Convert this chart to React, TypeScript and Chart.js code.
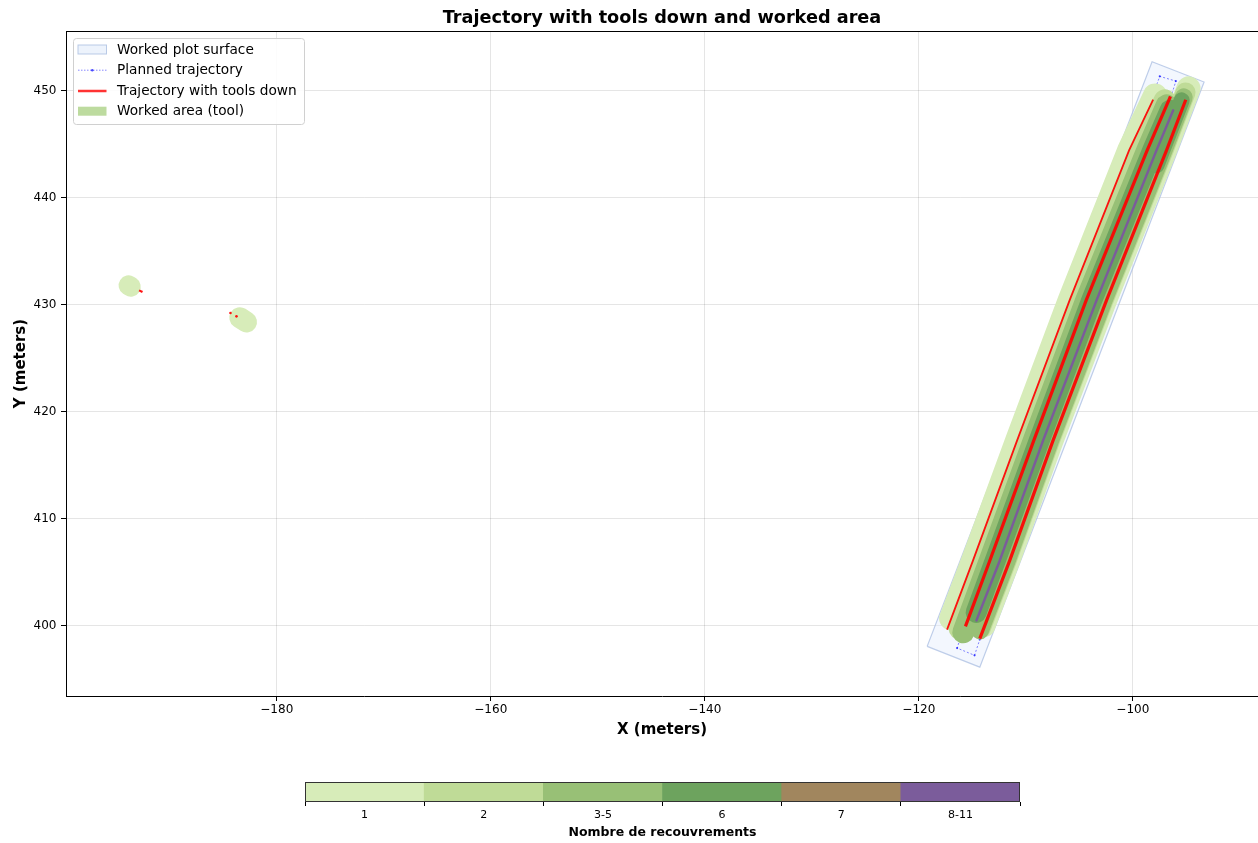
import React, { useEffect, useRef } from 'react';
import { Chart, registerables } from 'chart.js';

Chart.register(...registerables);

const FONT = "'DejaVu Sans', 'Noto Sans', sans-serif";

// ---------------- data ----------------
const X_TICKS = [-180, -160, -140, -120, -100];
const Y_TICKS = [400, 410, 420, 430, 440, 450];
const X_LIMITS = [-199.7, -88.3];
const Y_LIMITS = [393.4, 455.55];

// Worked plot surface (closed polygon)
const surfaceX = [-119.22, -114.3, -93.34, -98.2, -119.22];
const surfaceY = [398.04, 396.1, 450.78, 452.68, 398.04];

// Planned trajectory
const plannedX = [-115.77, -98.2, -97.48, -95.98, -96.48, -114.3, -114.79, -116.42, -115.77];
const plannedY = [399.84, 449.37, 451.31, 450.87, 449.22, 398.69, 397.2, 397.88, 399.84];

// Trajectory with tools down
const pass1X = [-117.36, -114.93, -110.81, -105.91, -100.35, -98.1];
const pass1Y = [399.6, 406.07, 417.29, 430.37, 444.39, 449.13];
const pass2X = [-115.64, -113.36, -109.25, -104.36, -98.66, -96.48];
const pass2Y = [399.91, 406.07, 417.29, 430.37, 444.39, 449.44];
const pass3X = [-114.3, -111.5, -107.45, -102.46, -96.85, -95.05];
const pass3Y = [398.76, 406.07, 417.29, 430.37, 444.39, 449.13];
const pass4X = [-192.87, -192.55];
const pass4Y = [431.31, 431.15];
const dotsX = [-184.33, -183.77];
const dotsY = [429.19, 428.88];

// Overlap classes (colour bar)
const OVERLAP_LABELS = ['1', '2', '3-5', '6', '7', '8-11'];
const OVERLAP_COLORS = ['#d7ecb9', '#bfdb97', '#98c076', '#6da35e', '#a1865e', '#7b5c9b'];

// Worked area (tool footprint) centre lines, by overlap class index
const work1aX = [-116.98, -114.93, -110.81, -105.91, -100.35, -97.92];
const work1aY = [400.65, 406.07, 417.29, 430.37, 444.39, 449.53];
const work1bX = [-113.96, -111.64, -107.59, -102.6, -96.99, -94.79];
const work1bY = [400.0, 406.07, 417.29, 430.37, 444.39, 450.19];
const work2aX = [-116.19, -113.81, -109.69, -104.79, -99.23, -97.01];
const work2aY = [399.72, 406.07, 417.29, 430.37, 444.39, 449.07];
const work2bX = [-114.21, -111.78, -107.73, -102.74, -97.13, -95.07];
const work2bY = [399.72, 406.07, 417.29, 430.37, 444.39, 449.81];
const work3aX = [-115.84, -113.36, -109.25, -104.36, -98.66, -96.84];
const work3aY = [399.35, 406.07, 417.29, 430.37, 444.39, 448.6];
const work3bX = [-114.28, -111.78, -107.73, -102.74, -97.13, -95.24];
const work3bY = [399.53, 406.07, 417.29, 430.37, 444.39, 449.35];
const work6aX = [-114.64, -112.85, -108.74, -103.85, -98.15, -96.52];
const work6aY = [401.21, 406.07, 417.29, 430.37, 444.39, 448.13];
const work6bX = [-95.43, -97.79];
const work6bY = [449.07, 443.0];
const work8X = [-114.61, -112.43, -108.38, -103.39, -97.79, -96.23];
const work8Y = [400.47, 406.07, 417.29, 430.37, 444.39, 448.13];
const workL1X = [-193.85, -193.65];
const workL1Y = [431.78, 431.65];
const workL2X = [-183.46, -182.83];
const workL2Y = [428.76, 428.35];

const LEGEND_LABELS = ['Worked plot surface', 'Planned trajectory', 'Trajectory with tools down', 'Worked area (tool)'];

// ---------------- helpers ----------------
const zip = (xs: number[], ys: number[]) => xs.map((x, i) => ({ x, y: ys[i] }));
const fmt = (v: number) => String(v).replace('-', '\u2212');

const W = 1258;
const MAIN_H = 760;
const BAR_H = 83;

function workLayer(xs: number[], ys: number[], cls: number, width: number) {
  return {
    data: zip(xs, ys),
    borderColor: OVERLAP_COLORS[cls],
    borderWidth: width,
    borderCapStyle: 'round',
    borderJoinStyle: 'round',
    pointRadius: 0,
    fill: false,
    tension: 0,
  };
}

function redLine(xs: number[], ys: number[], width: number) {
  return {
    data: zip(xs, ys),
    borderColor: 'rgba(255,0,0,0.92)',
    borderWidth: width,
    borderCapStyle: 'butt',
    pointRadius: 0,
    fill: false,
    tension: 0,
  };
}

const topSpinePlugin = {
  id: 'topSpine',
  afterDraw(chart: any) {
    const { ctx, chartArea } = chart;
    ctx.save();
    ctx.strokeStyle = '#000';
    ctx.lineWidth = 1;
    ctx.beginPath();
    const y = Math.round(chartArea.top) + 0.5;
    ctx.moveTo(chartArea.left, y);
    ctx.lineTo(chartArea.right, y);
    ctx.stroke();
    ctx.restore();
  },
};

const legendPlugin = {
  id: 'customLegend',
  afterDraw(chart: any) {
    const { ctx, chartArea } = chart;
    const x0 = chartArea.left + 7.5;
    const y0 = chartArea.top + 7.5;
    const w = 231;
    const h = 86;
    const r = 3;
    ctx.save();
    ctx.beginPath();
    ctx.moveTo(x0 + r, y0);
    ctx.lineTo(x0 + w - r, y0);
    ctx.quadraticCurveTo(x0 + w, y0, x0 + w, y0 + r);
    ctx.lineTo(x0 + w, y0 + h - r);
    ctx.quadraticCurveTo(x0 + w, y0 + h, x0 + w - r, y0 + h);
    ctx.lineTo(x0 + r, y0 + h);
    ctx.quadraticCurveTo(x0, y0 + h, x0, y0 + h - r);
    ctx.lineTo(x0, y0 + r);
    ctx.quadraticCurveTo(x0, y0, x0 + r, y0);
    ctx.closePath();
    ctx.fillStyle = 'rgba(255,255,255,0.85)';
    ctx.fill();
    ctx.strokeStyle = '#d0d0d0';
    ctx.lineWidth = 1;
    ctx.stroke();

    const rows = [11, 31.7, 52.5, 72.7].map((d) => y0 + d);
    const sx0 = x0 + 4.5;
    const sx1 = x0 + 33;

    ctx.fillStyle = 'rgba(225,235,250,0.6)';
    ctx.fillRect(sx0, rows[0] - 4.5, sx1 - sx0, 9);
    ctx.strokeStyle = 'rgba(170,190,225,0.8)';
    ctx.lineWidth = 1;
    ctx.strokeRect(sx0, rows[0] - 4.5, sx1 - sx0, 9);

    ctx.strokeStyle = 'rgba(0,0,255,0.6)';
    ctx.lineWidth = 0.8;
    ctx.setLineDash([1.5, 1.5]);
    ctx.beginPath();
    ctx.moveTo(sx0, rows[1]);
    ctx.lineTo(sx1, rows[1]);
    ctx.stroke();
    ctx.setLineDash([]);
    ctx.fillStyle = 'rgba(0,0,255,0.7)';
    ctx.beginPath();
    ctx.arc((sx0 + sx1) / 2, rows[1], 1.2, 0, Math.PI * 2);
    ctx.fill();

    ctx.strokeStyle = 'rgba(255,0,0,0.8)';
    ctx.lineWidth = 2.5;
    ctx.beginPath();
    ctx.moveTo(sx0, rows[2]);
    ctx.lineTo(sx1, rows[2]);
    ctx.stroke();

    ctx.fillStyle = '#bddb9f';
    ctx.fillRect(sx0, rows[3] - 4.5, sx1 - sx0, 9);

    ctx.fillStyle = '#000';
    ctx.font = `13.7px ${FONT}`;
    ctx.textBaseline = 'middle';
    ctx.textAlign = 'left';
    LEGEND_LABELS.forEach((t, i) => ctx.fillText(t, x0 + 43.5, rows[i] + 0.5));
    ctx.restore();
  },
};

const barOutlinePlugin = {
  id: 'barOutline',
  afterDraw(chart: any) {
    const { ctx, chartArea } = chart;
    ctx.save();
    ctx.strokeStyle = '#333';
    ctx.lineWidth = 1;
    ctx.strokeRect(
      Math.round(chartArea.left) + 0.5,
      Math.round(chartArea.top) + 0.5,
      Math.round(chartArea.right - chartArea.left) - 1,
      Math.round(chartArea.bottom - chartArea.top) - 1
    );
    ctx.restore();
  },
};

function mainConfig(): any {
  const layers: any[] = [
    {
      data: zip(surfaceX, surfaceY),
      borderColor: 'rgba(170,190,225,0.75)',
      borderWidth: 1.2,
      backgroundColor: 'rgba(225,235,252,0.4)',
      fill: 'shape',
      pointRadius: 0,
      tension: 0,
    },
    {
      data: zip(plannedX, plannedY),
      borderColor: 'rgba(0,0,255,0.6)',
      borderWidth: 0.8,
      borderDash: [2, 2],
      pointRadius: 1.1,
      pointBackgroundColor: 'rgba(0,0,255,0.7)',
      pointBorderWidth: 0,
      fill: false,
      tension: 0,
    },
    workLayer(workL1X, workL1Y, 0, 20),
    workLayer(workL2X, workL2Y, 0, 21),
    workLayer(work1aX, work1aY, 0, 24),
    workLayer(work1bX, work1bY, 0, 24),
    workLayer(work2aX, work2aY, 1, 22),
    workLayer(work2bX, work2bY, 1, 20),
    workLayer(work3aX, work3aY, 2, 22),
    workLayer(work3bX, work3bY, 2, 18),
    workLayer(work6aX, work6aY, 3, 21),
    workLayer(work6bX, work6bY, 3, 16),
    workLayer(work8X, work8Y, 5, 2.5),
    redLine(pass1X, pass1Y, 1.8),
    redLine(pass2X, pass2Y, 3.2),
    redLine(pass3X, pass3Y, 3.2),
    redLine(pass4X, pass4Y, 2.2),
    {
      data: zip(dotsX, dotsY),
      showLine: false,
      borderColor: 'rgba(255,0,0,0.92)',
      backgroundColor: 'rgba(255,0,0,0.92)',
      pointRadius: 1.3,
      pointBorderWidth: 0,
      fill: false,
    },
  ];
  const n = layers.length;
  const datasets = layers.map((d, i) => ({ ...d, order: n - i }));

  const tickFont = { family: FONT, size: 12 };
  const titleFont = { family: FONT, size: 15, weight: 'bold' as const };

  return {
    type: 'line',
    data: { datasets },
    options: {
      animation: false,
      responsive: false,
      maintainAspectRatio: false,
      events: [],
      layout: { padding: 0, autoPadding: false },
      elements: { point: { radius: 0 } },
      plugins: {
        legend: { display: false },
        tooltip: { enabled: false },
        title: {
          display: true,
          fullSize: false,
          text: 'Trajectory with tools down and worked area',
          color: '#000',
          font: { family: FONT, size: 17.7, weight: 'bold' },
          padding: { top: 8, bottom: 1.76 },
        },
      },
      scales: {
        x: {
          type: 'linear',
          min: X_LIMITS[0],
          max: X_LIMITS[1],
          afterBuildTicks: (s: any) => {
            s.ticks = X_TICKS.map((v) => ({ value: v }));
          },
          afterFit: (s: any) => {
            s.height = MAIN_H - 696;
            s.paddingLeft = 0;
            s.paddingRight = 0;
          },
          ticks: {
            callback: (v: any) => fmt(v),
            color: '#000',
            font: tickFont,
            padding: 2,
            maxRotation: 0,
            autoSkip: false,
          },
          grid: {
            color: 'rgba(0,0,0,0.1)',
            lineWidth: 1,
            tickColor: '#000',
            tickLength: 5,
            tickWidth: 1,
          },
          border: { color: '#000', width: 1 },
          title: {
            display: true,
            text: 'X (meters)',
            color: '#000',
            font: titleFont,
            padding: { top: 0, bottom: 21 },
          },
        },
        y: {
          type: 'linear',
          min: Y_LIMITS[0],
          max: Y_LIMITS[1],
          afterBuildTicks: (s: any) => {
            s.ticks = Y_TICKS.map((v) => ({ value: v }));
          },
          afterFit: (s: any) => {
            s.width = 66;
            s.paddingTop = 0;
            s.paddingBottom = 0;
          },
          ticks: {
            callback: (v: any) => fmt(v),
            color: '#000',
            font: tickFont,
            padding: 4.5,
            autoSkip: false,
          },
          grid: {
            color: 'rgba(0,0,0,0.1)',
            lineWidth: 1,
            tickColor: '#000',
            tickLength: 5,
            tickWidth: 1,
          },
          border: { color: '#000', width: 1 },
          title: {
            display: true,
            text: 'Y (meters)',
            color: '#000',
            font: titleFont,
            padding: { top: 12, bottom: 0 },
          },
        },
      },
    },
    plugins: [topSpinePlugin, legendPlugin],
  };
}

function barConfig(): any {
  return {
    type: 'bar',
    data: {
      labels: OVERLAP_LABELS,
      datasets: [
        {
          data: OVERLAP_LABELS.map(() => 1),
          backgroundColor: OVERLAP_COLORS,
          borderWidth: 0,
          barPercentage: 1,
          categoryPercentage: 1,
        },
      ],
    },
    options: {
      animation: false,
      responsive: false,
      maintainAspectRatio: false,
      events: [],
      layout: { padding: { left: 305, right: W - 1020, top: 22, bottom: 0 }, autoPadding: false },
      plugins: { legend: { display: false }, tooltip: { enabled: false } },
      scales: {
        y: { display: false, min: 0, max: 1 },
        x: {
          afterFit: (s: any) => {
            s.height = BAR_H - 42;
          },
          grid: {
            offset: true,
            drawOnChartArea: false,
            drawTicks: true,
            tickLength: 4,
            tickColor: '#000',
            tickWidth: 1,
          },
          border: { display: false },
          ticks: { color: '#000', font: { family: FONT, size: 11 }, padding: 3 },
          title: {
            display: true,
            text: 'Nombre de recouvrements',
            color: '#000',
            font: { family: FONT, size: 12.5, weight: 'bold' },
            padding: { top: 0, bottom: 2.5 },
          },
        },
      },
    },
    plugins: [barOutlinePlugin],
  };
}

export default function App() {
  const mainRef = useRef<HTMLCanvasElement>(null);
  const barRef = useRef<HTMLCanvasElement>(null);

  useEffect(() => {
    Chart.defaults.font.family = FONT;
    const main = new Chart(mainRef.current as HTMLCanvasElement, mainConfig());
    const bar = new Chart(barRef.current as HTMLCanvasElement, barConfig());
    return () => {
      main.destroy();
      bar.destroy();
    };
  }, []);

  return (
    <div style={{ position: 'absolute', left: 0, top: 0, width: W, height: MAIN_H + BAR_H, background: '#fff' }}>
      <canvas
        ref={mainRef}
        width={W}
        height={MAIN_H}
        style={{ position: 'absolute', left: 0, top: 0, width: W, height: MAIN_H }}
      />
      <canvas
        ref={barRef}
        width={W}
        height={BAR_H}
        style={{ position: 'absolute', left: 0, top: MAIN_H, width: W, height: BAR_H }}
      />
    </div>
  );
}
